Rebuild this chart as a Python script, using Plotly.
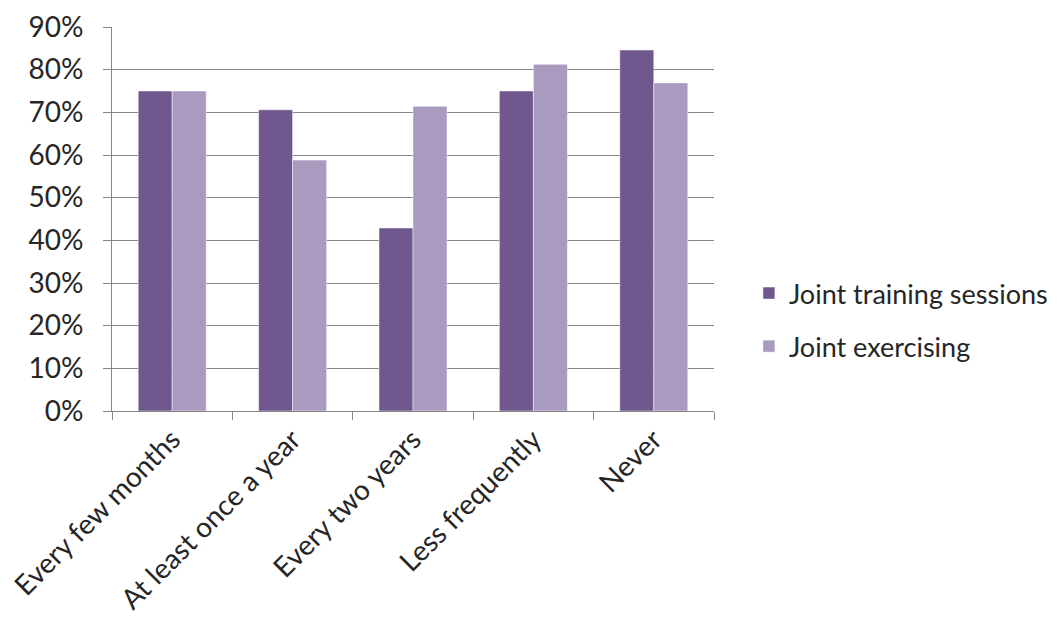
import plotly.graph_objects as go

categories = ["Every few months", "At least once a year", "Every two years", "Less frequently", "Never"]
training = [0.75, 0.706, 0.429, 0.75, 0.846]
exercising = [0.75, 0.588, 0.714, 0.8125, 0.769]
series_names = ["Joint training sessions", "Joint exercising"]
colors = ["#70588E", "#A99ABF"]
y_ticks = [0, 0.1, 0.2, 0.3, 0.4, 0.5, 0.6, 0.7, 0.8, 0.9]

font_family = "Lato, Open Sans, sans-serif"
text_color = "#262626"

fig = go.Figure()
for i, (name, vals) in enumerate(zip(series_names, [training, exercising])):
    fig.add_trace(go.Bar(
        x=categories, y=vals, name=name,
        marker=dict(color=colors[i], line=dict(color="rgba(255,255,255,0.6)", width=0.8)),
        legendgroup=f"g{i}",
    ))

fig.update_layout(
    width=1058, height=617,
    margin=dict(l=104, r=352, t=19, b=214, autoexpand=False),
    paper_bgcolor="white", plot_bgcolor="white",
    barmode="group", bargap=0.435, bargroupgap=0,
    font=dict(family=font_family, size=27, color=text_color),
    legend=dict(
        x=1.058, y=0.237, xanchor="left", yanchor="middle",
        font=dict(size=27, color=text_color),
        tracegroupgap=15, bgcolor="rgba(0,0,0,0)",
    ),
    showlegend=True,
)
fig.update_xaxes(
    type="category", tickangle=-45, tickson="boundaries", ticks="outside",
    ticklen=8, tickcolor="#868686", showline=True, linecolor="#868686", linewidth=1,
    showgrid=False, tickfont=dict(size=28, color=text_color), mirror=False,
    automargin=False,
)
fig.update_yaxes(
    range=[0, 0.9], tickvals=y_ticks, tickformat=".0%", ticks="outside", ticklen=8,
    tickcolor="#868686", showline=True, linecolor="#868686", linewidth=1,
    showgrid=True, gridcolor="#868686", gridwidth=1, zeroline=False,
    tickfont=dict(size=28, color=text_color), ticklabelstandoff=14,
    automargin=False,
)
fig.write_html("out.html")
